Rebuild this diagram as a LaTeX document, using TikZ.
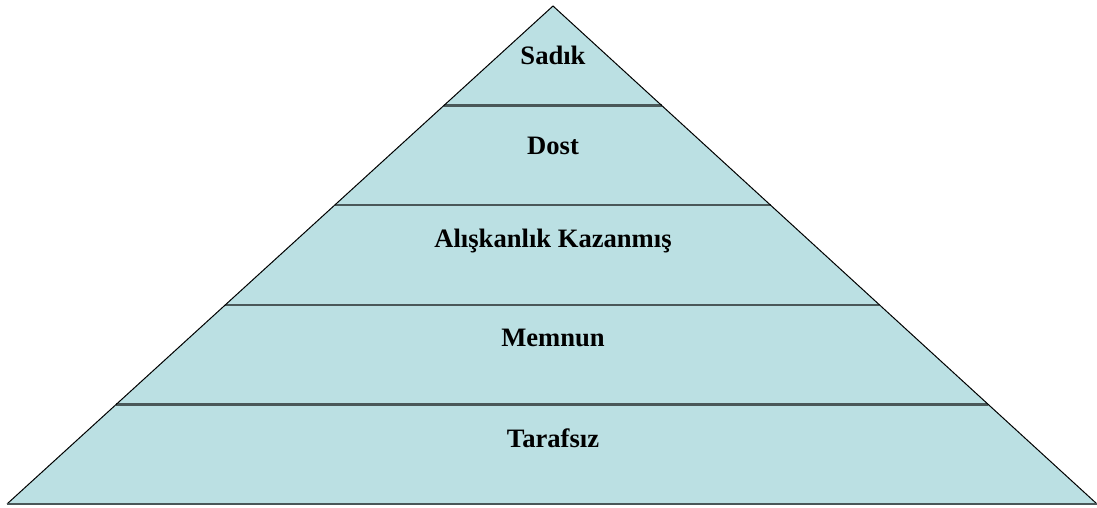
\documentclass[tikz,border=0pt]{standalone}
\usepackage{fontspec}
\setmainfont{Liberation Serif}
\usetikzlibrary{calc}
\definecolor{pyrfill}{HTML}{BBE0E3}
\definecolor{divline}{HTML}{4A5859}
\tikzset{
  lvl/.style={font=\bfseries\fontsize{26.6}{31}\selectfont, text=black, anchor=center},
  divider/.style={draw=divline, line width=2.2pt},
  outline/.style={draw=black, line width=1pt, fill=pyrfill}
}
\begin{document}
\begin{tikzpicture}[x=1pt,y=-1pt]
\useasboundingbox (0,0) rectangle (1097,508);
\coordinate (apex) at (553,6);
\coordinate (bl) at (7,504);
\coordinate (br) at (1097,504);
\fill[pyrfill] (apex) -- (bl) -- (br) -- cycle;
\foreach \t/\n in {0.2/a,0.4/b,0.6/c,0.8/d}{
  \coordinate (l\n) at ($(apex)!\t!(bl)$);
  \coordinate (r\n) at ($(apex)!\t!(br)$);
  \draw[divider] (l\n) -- (r\n);
}
\draw[black, line width=1pt, line join=miter] (bl) -- (apex) -- (br);
\draw[divline, line width=2.2pt] (bl) -- (br);
\node[lvl] (sadik) at (553,55) {Sadık};
\node[lvl] (dost) at (553,146) {Dost};
\node[lvl] (alis) at (553,241) {Alışkanlık Kazanmış};
\node[lvl] (memnun) at (553,338) {Memnun};
\node[lvl] (taraf) at (553,438) {Tarafsız};
\end{tikzpicture}
\end{document}
